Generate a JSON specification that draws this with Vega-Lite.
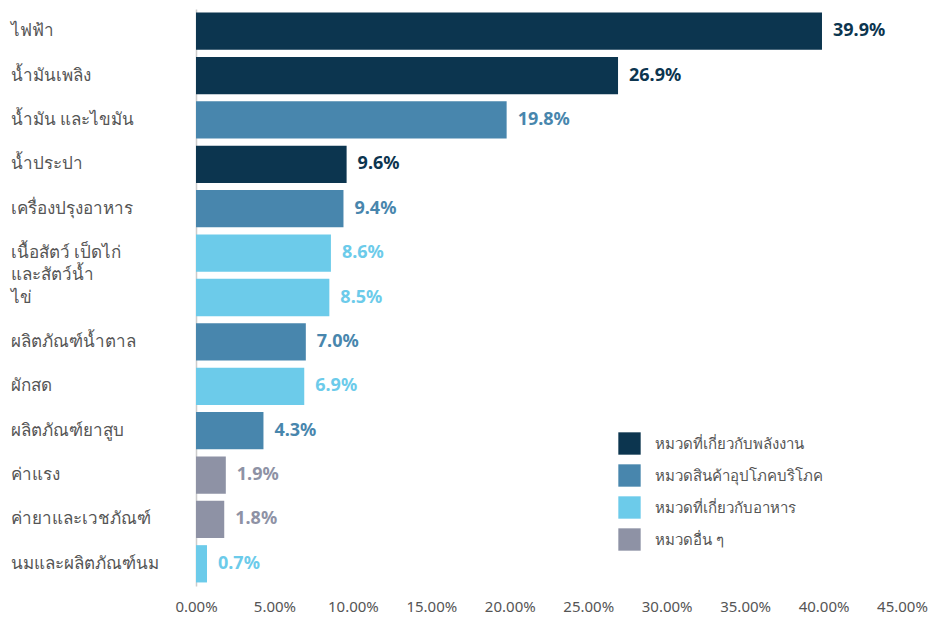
{
  "$schema": "https://vega.github.io/schema/vega-lite/v6.json",
  "width": 706,
  "height": 577,
  "autosize": {"type": "none"},
  "padding": {"left": 196, "top": 9, "right": 32, "bottom": 36},
  "background": "white",
  "config": {"view": {"stroke": null}, "font": "Noto Sans"},
  "data": {"values": [
    {"item": "ไฟฟ้า", "value": 39.9, "label": "39.9%", "group": "หมวดที่เกี่ยวกับพลังงาน"},
    {"item": "น้ำมันเพลิง", "value": 26.9, "label": "26.9%", "group": "หมวดที่เกี่ยวกับพลังงาน"},
    {"item": "น้ำมัน และไขมัน", "value": 19.8, "label": "19.8%", "group": "หมวดสินค้าอุปโภคบริโภค"},
    {"item": "น้ำประปา", "value": 9.6, "label": "9.6%", "group": "หมวดที่เกี่ยวกับพลังงาน"},
    {"item": "เครื่องปรุงอาหาร", "value": 9.4, "label": "9.4%", "group": "หมวดสินค้าอุปโภคบริโภค"},
    {"item": "เนื้อสัตว์ เป็ดไก่|และสัตว์น้ำ", "value": 8.6, "label": "8.6%", "group": "หมวดที่เกี่ยวกับอาหาร"},
    {"item": "ไข่", "value": 8.5, "label": "8.5%", "group": "หมวดที่เกี่ยวกับอาหาร"},
    {"item": "ผลิตภัณฑ์น้ำตาล", "value": 7.0, "label": "7.0%", "group": "หมวดสินค้าอุปโภคบริโภค"},
    {"item": "ผักสด", "value": 6.9, "label": "6.9%", "group": "หมวดที่เกี่ยวกับอาหาร"},
    {"item": "ผลิตภัณฑ์ยาสูบ", "value": 4.3, "label": "4.3%", "group": "หมวดสินค้าอุปโภคบริโภค"},
    {"item": "ค่าแรง", "value": 1.9, "label": "1.9%", "group": "หมวดอื่น ๆ"},
    {"item": "ค่ายาและเวชภัณฑ์", "value": 1.8, "label": "1.8%", "group": "หมวดอื่น ๆ"},
    {"item": "นมและผลิตภัณฑ์นม", "value": 0.7, "label": "0.7%", "group": "หมวดที่เกี่ยวกับอาหาร"}
  ]},
  "encoding": {
    "y": {
      "field": "item", "type": "nominal", "sort": null, "title": null,
      "scale": {"paddingInner": 0.16, "paddingOuter": 0.08},
      "axis": {
        "ticks": false, "tickSize": 0, "labelAlign": "left", "labelPadding": 186,
        "labelFontSize": 17, "labelColor": "#555555", "labelLineHeight": 22,
        "labelExpr": "split(datum.label, '|')", "labelLimit": 200,
        "domainColor": "#cccccc", "domainWidth": 1.5, "grid": false
      }
    },
    "x": {
      "field": "value", "type": "quantitative", "title": null,
      "scale": {"domain": [0, 45], "nice": false},
      "axis": {
        "values": [0, 5, 10, 15, 20, 25, 30, 35, 40, 45],
        "labelExpr": "format(datum.value, '.2f') + '%'",
        "domain": false, "ticks": false, "grid": false,
        "labelFontSize": 15, "labelColor": "#555555", "labelPadding": 13, "labelFlush": false
      }
    }
  },
  "layer": [
    {
      "mark": {"type": "bar"},
      "encoding": {
        "color": {
          "field": "group", "type": "nominal",
          "scale": {
            "domain": ["หมวดที่เกี่ยวกับพลังงาน", "หมวดสินค้าอุปโภคบริโภค", "หมวดที่เกี่ยวกับอาหาร", "หมวดอื่น ๆ"],
            "range": ["#0c354f", "#4886ad", "#6ccbea", "#8e92a5"]
          },
          "legend": {
            "title": null, "orient": "none", "legendX": 422, "legendY": 423,
            "symbolType": "square", "symbolSize": 500, "symbolStrokeWidth": 0,
            "labelFontSize": 15, "labelColor": "#555555", "rowPadding": 9,
            "labelOffset": 14, "labelLimit": 300
          }
        }
      }
    },
    {
      "mark": {"type": "text", "align": "left", "dx": 11, "fontSize": 18, "fontWeight": "bold"},
      "encoding": {
        "text": {"field": "label", "type": "nominal"},
        "color": {"field": "group", "type": "nominal", "legend": null}
      }
    }
  ]
}
